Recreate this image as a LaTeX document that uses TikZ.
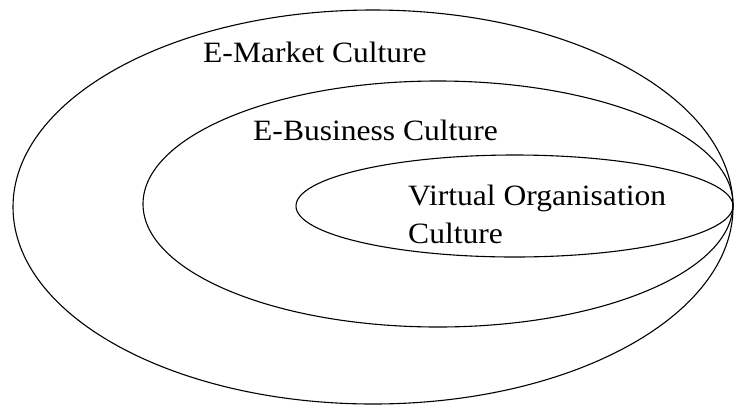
\documentclass[tikz,border=0pt]{standalone}
\usepackage{fontspec}
\setmainfont[FakeStretch=1.07]{Liberation Serif}
\begin{document}
\begin{tikzpicture}[x=1pt,y=-1pt,
  ring/.style={draw=black,line width=1.1pt},
  lbl/.style={anchor=base west,inner sep=0pt,font=\fontsize{29.5}{38}\selectfont}]
\useasboundingbox (0,0) rectangle (735,405);
\draw[ring] (373,207) ellipse [x radius=360,y radius=197];
\draw[ring] (438,204) ellipse [x radius=295,y radius=123];
\draw[ring] (514.5,206) ellipse [x radius=218.5,y radius=51];
\node[lbl] (m) at (203,62) {E-Market Culture};
\node[lbl] (b) at (253,140) {E-Business Culture};
\node[lbl] (v1) at (408,205) {Virtual Organisation};
\node[lbl] (v2) at (408,243) {Culture};
\end{tikzpicture}
\end{document}
